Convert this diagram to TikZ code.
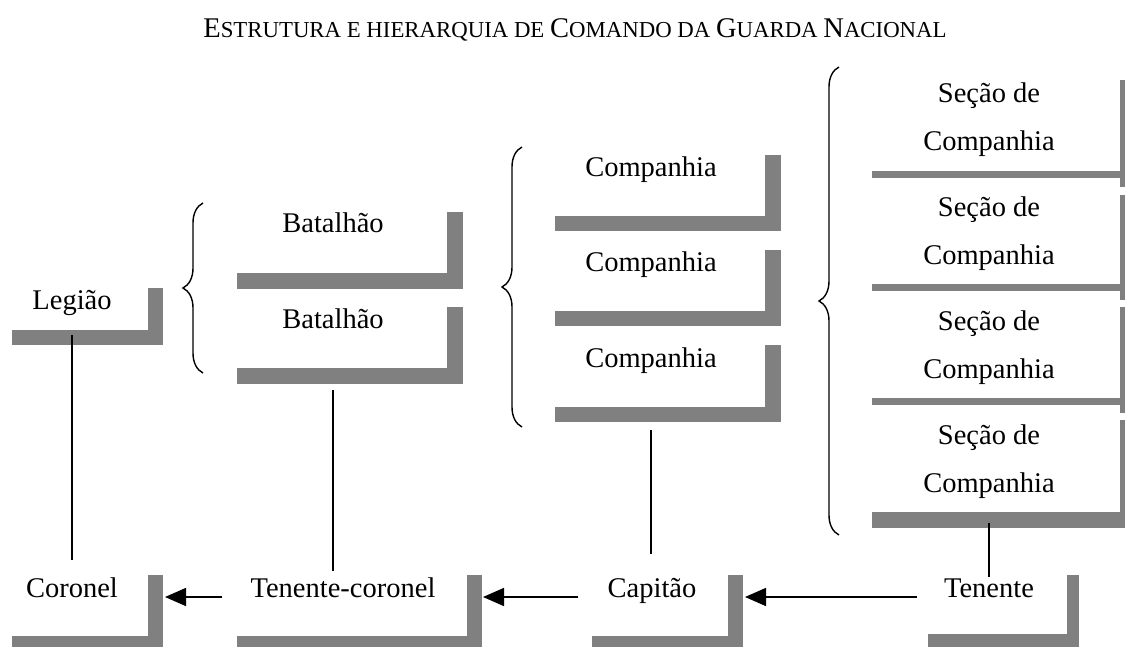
\documentclass[tikz,border=0pt]{standalone}
\usepackage{fontspec}
\setmainfont{Liberation Serif}
\usetikzlibrary{positioning, arrows.meta, decorations.pathreplacing}
\definecolor{barGray}{RGB}{128,128,128}
\newcommand{\smallcaps}[1]{{\fontsize{22.8}{26}\selectfont #1}}
\tikzset{
  unit/.style={font=\fontsize{28.5}{34}\selectfont, inner sep=0pt, text height=19.5pt, text depth=6.2pt, anchor=base},
  section/.style={font=\fontsize{28.5}{48}\selectfont, inner sep=0pt, align=center, anchor=north},
  lshade/.style n args={3}{inner sep=0pt, outer sep=0pt, anchor=north west, path picture={
      \fill[barGray] ([yshift=#3]path picture bounding box.south west) rectangle ([yshift=#3+#1]path picture bounding box.south east);
      \fill[barGray] ([xshift=-#2]path picture bounding box.north east) rectangle (path picture bounding box.south east);}},
  link/.style={line width=1.5pt},
  arrow/.style={line width=1.5pt, -{Triangle[length=21pt, width=18pt]}},
  curly/.style={line width=1.4pt, decorate, decoration={brace, amplitude=20pt}}
}
\begin{document}
\begin{tikzpicture}[x=1pt, y=-1pt]
\useasboundingbox (0,0) rectangle (1125,647);

\node (title) [anchor=base, font=\fontsize{28.5}{34}\selectfont, inner sep=0pt] at (575,38) {E\smallcaps{STRUTURA E HIERARQUIA DE }C\smallcaps{OMANDO DA }G\smallcaps{UARDA }N\smallcaps{ACIONAL}};

% gray corners
\node (legL) [lshade={15pt}{15pt}{0pt}, minimum width=151pt, minimum height=57pt] at (12,288) {};
\node (bat1L) [lshade={16pt}{16pt}{0pt}, minimum width=226pt, minimum height=77pt] at (237,212) {};
\node (bat2L) [lshade={16pt}{16pt}{0pt}, minimum width=226pt, minimum height=77pt] at (237,307) {};
\node (com1L) [lshade={15pt}{16pt}{0pt}, minimum width=226pt, minimum height=76pt] at (555,155) {};
\node (com2L) [lshade={15pt}{16pt}{0pt}, minimum width=226pt, minimum height=76pt] at (555,250) {};
\node (com3L) [lshade={15pt}{16pt}{0pt}, minimum width=226pt, minimum height=77pt] at (555,345) {};
\node (sec1L) [lshade={7pt}{5pt}{9pt}, minimum width=253pt, minimum height=107pt] at (872,80) {};
\node (sec2L) [lshade={7pt}{5pt}{9pt}, minimum width=253pt, minimum height=105pt] at (872,195) {};
\node (sec3L) [lshade={7pt}{5pt}{8pt}, minimum width=253pt, minimum height=106pt] at (872,307) {};
\node (sec4L) [lshade={16pt}{5pt}{0pt}, minimum width=253pt, minimum height=108pt] at (872,420) {};
\node (corL) [lshade={11pt}{15pt}{0pt}, minimum width=151pt, minimum height=72pt] at (12,575) {};
\node (tcorL) [lshade={11pt}{15pt}{0pt}, minimum width=245pt, minimum height=72pt] at (237,575) {};
\node (capL) [lshade={11pt}{15pt}{0pt}, minimum width=151pt, minimum height=72pt] at (592,575) {};
\node (tenL) [lshade={13pt}{12pt}{0pt}, minimum width=151pt, minimum height=72pt] at (928,575) {};

% units
\node (leg) [unit] at (72,309) {Legião};
\node (bat1) [unit] at (333,233) {Batalhão};
\node (bat2) [unit] at (333,328) {Batalhão};
\node (com1) [unit] at (651,177) {Companhia};
\node (com2) [unit] at (651,272) {Companhia};
\node (com3) [unit] at (651,367) {Companhia};
\node (sec1) [section] at (989,82.5) {Seção de\\Companhia};
\node (sec2) [section] at (989,196.5) {Seção de\\Companhia};
\node (sec3) [section] at (989,310.5) {Seção de\\Companhia};
\node (sec4) [section] at (989,424.5) {Seção de\\Companhia};

% ranks
\node (cor) [unit] at (72,597) {Coronel};
\node (tcor) [unit] at (343,597) {Tenente-coronel};
\node (cap) [unit] at (652,597) {Capitão};
\node (ten) [unit] at (989,597) {Tenente};

% braces
\coordinate (b1bot) at (203,373);
\coordinate (b1top) at (203,203);
\coordinate (b2bot) at (522,427);
\coordinate (b2top) at (522,147);
\coordinate (b3bot) at (839,535);
\coordinate (b3top) at (839,67);
\draw [curly] (b1bot) -- (b1top);
\draw [curly] (b2bot) -- (b2top);
\draw [curly] (b3bot) -- (b3top);

% command lines
\draw [link, shorten >=17pt] ([yshift=-20pt]leg.south) -- (leg.south |- cor.north);
\draw [link, shorten >=6pt] ([yshift=-56pt]bat2.south) -- (bat2.south |- tcor.north);
\draw [link, shorten >=23pt] ([yshift=-57pt]com3.south) -- (com3.south |- cap.north);
\draw [link] ([yshift=-24pt]sec4.south) -- (sec4.south |- ten.north);

\draw [arrow, shorten >=2pt] ([xshift=-28pt]tcor.base west) -- (tcor.base west -| corL.east);
\draw [arrow, shorten >=1pt] ([xshift=-29pt]cap.base west) -- (cap.base west -| tcorL.east);
\draw [arrow, shorten >=2pt] ([xshift=-27pt]ten.base west) -- (ten.base west -| capL.east);
\end{tikzpicture}
\end{document}
